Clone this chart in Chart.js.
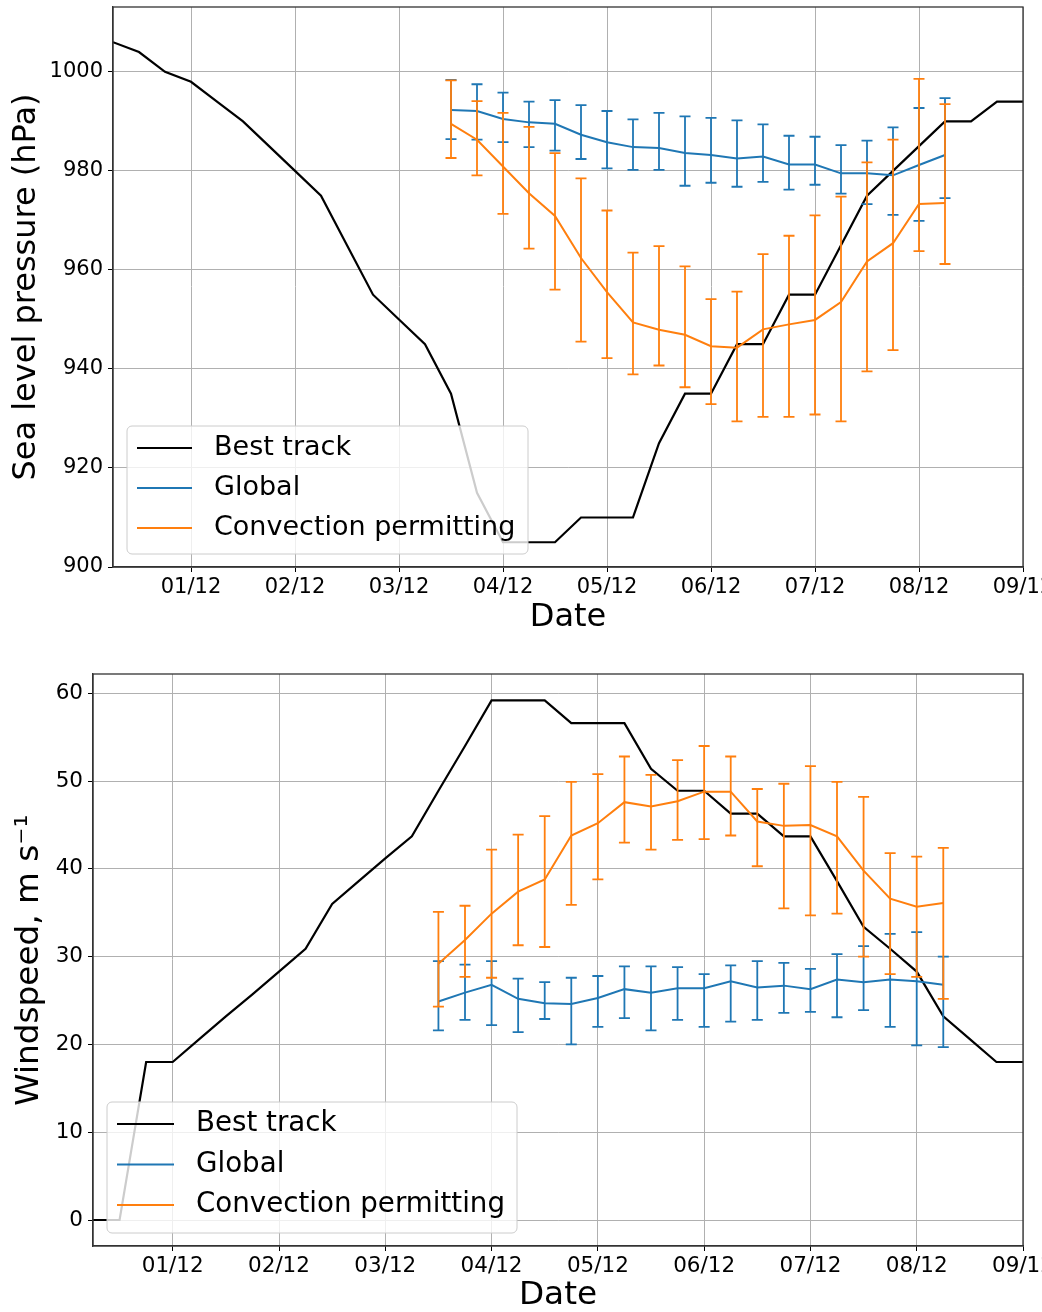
<!DOCTYPE html>
<html>
<head>
<meta charset="utf-8">
<script src="https://cdn.jsdelivr.net/npm/chart.js@4.4.1/dist/chart.umd.min.js"></script>
<style>
  body { margin: 0; background: #fff; }
  #wrap { position: relative; width: 1042px; height: 1312px; }
  canvas { position: absolute; left: 0; }
</style>
</head>
<body>
<div id="wrap">
  <canvas id="pressChart" width="1042" height="640" style="top:0;width:1042px;height:640px"></canvas>
  <canvas id="windChart" width="1042" height="672" style="top:640px;width:1042px;height:672px"></canvas>
</div>
<script>
// x is days into December (1 = 01/12 00Z)
const dayTicks = [1, 2, 3, 4, 5, 6, 7, 8, 9];
const dayLabels = ['01/12', '02/12', '03/12', '04/12', '05/12', '06/12', '07/12', '08/12', '09/12'];
const pressTicks = [900, 920, 940, 960, 980, 1000];
const windTicks = [0, 10, 20, 30, 40, 50, 60];

// best track, 6-hourly
const trackTimes = [0.25, 0.5, 0.75, 1, 1.25, 1.5, 1.75, 2, 2.25, 2.5, 2.75, 3, 3.25, 3.5, 3.75, 4, 4.25, 4.5,
  4.75, 5, 5.25, 5.5, 5.75, 6, 6.25, 6.5, 6.75, 7, 7.25, 7.5, 7.75, 8, 8.25, 8.5, 8.75, 9];
const trackPressure = [1006, 1004, 1000, 998, 994, 990, 985, 980, 975, 965, 955, 950, 945, 935, 915, 905, 905, 905,
  910, 910, 910, 925, 935, 935, 945, 945, 955, 955, 965, 975, 980, 985, 990, 990, 994, 994];
const trackWind = [0, 0, 18.0, 18.0, 20.6, 23.2, 25.7, 28.3, 30.9, 36.0, 38.6, 41.2, 43.7, 48.9, 54.0, 59.2, 59.2, 59.2,
  56.6, 56.6, 56.6, 51.4, 48.9, 48.9, 46.3, 46.3, 43.7, 43.7, 38.6, 33.4, 30.9, 28.3, 23.2, 20.6, 18.0, 18.0];

// model forecasts (mean, upper and lower error bar)
const modelTimes = [3.5, 3.75, 4, 4.25, 4.5, 4.75, 5, 5.25, 5.5, 5.75, 6, 6.25, 6.5, 6.75, 7, 7.25, 7.5, 7.75, 8, 8.25];

const globalPressure = [992.3, 992.1, 990.5, 989.8, 989.5, 987.3, 985.8, 984.8, 984.6, 983.6, 983.2, 982.5, 982.9, 981.3, 981.3, 979.5, 979.5, 979.1, 981.2, 983.2];
const globalPressureHigh = [998.4, 997.5, 995.8, 994.0, 994.3, 993.3, 992.1, 990.4, 991.7, 991.0, 990.7, 990.2, 989.4, 987.1, 986.9, 985.2, 986.1, 988.8, 992.7, 994.7];
const globalPressureLow = [986.4, 986.3, 985.8, 984.8, 984.1, 982.4, 980.5, 980.2, 980.2, 977.0, 977.6, 976.8, 977.8, 976.2, 977.2, 975.4, 973.3, 971.1, 969.9, 974.5];

const cpPressure = [989.5, 986.3, 980.9, 975.5, 970.9, 962.4, 955.5, 949.4, 947.9, 946.9, 944.6, 944.3, 948.0, 949.0, 949.9, 953.5, 961.7, 965.4, 973.3, 973.5];
const cpPressureHigh = [998.3, 994.1, 991.7, 988.9, 983.6, 978.5, 972.0, 963.5, 964.8, 960.7, 954.1, 955.6, 963.2, 966.9, 971.0, 974.8, 981.7, 986.3, 998.6, 993.5];
const cpPressureLow = [982.6, 979.1, 971.3, 964.3, 956.0, 945.5, 942.2, 938.9, 940.7, 936.3, 932.9, 929.4, 930.3, 930.3, 930.8, 929.4, 939.5, 943.8, 963.8, 961.2];

const globalWind = [24.9, 25.9, 26.8, 25.2, 24.7, 24.6, 25.3, 26.3, 25.9, 26.4, 26.4, 27.2, 26.5, 26.7, 26.3, 27.4, 27.1, 27.4, 27.2, 26.8];
const globalWindHigh = [29.5, 29.1, 29.5, 27.5, 27.1, 27.6, 27.8, 28.9, 28.9, 28.8, 28.0, 29.0, 29.5, 29.3, 28.6, 30.3, 31.2, 32.6, 32.8, 30.0];
const globalWindLow = [21.6, 22.8, 22.2, 21.4, 22.9, 20.0, 22.0, 23.0, 21.6, 22.8, 22.0, 22.6, 22.8, 23.6, 23.7, 23.1, 23.9, 22.0, 19.9, 19.7];

const cpWind = [29.2, 31.9, 34.9, 37.4, 38.8, 43.8, 45.2, 47.6, 47.1, 47.7, 48.8, 48.8, 45.4, 44.9, 45.0, 43.7, 39.8, 36.6, 35.7, 36.1];
const cpWindHigh = [35.1, 35.8, 42.2, 43.9, 46.0, 49.9, 50.8, 52.8, 50.7, 52.4, 54.0, 52.8, 49.1, 49.7, 51.7, 49.9, 48.2, 41.8, 41.4, 42.4];
const cpWindLow = [24.3, 27.7, 27.6, 31.3, 31.1, 35.9, 38.8, 43.0, 42.2, 43.3, 43.4, 43.8, 40.3, 35.5, 34.7, 34.9, 30.0, 28.0, 27.7, 25.2];

const BLUE = '#1f77b4';
const ORANGE = '#ff7f0e';

Chart.defaults.font.family = '"DejaVu Sans", sans-serif';
Chart.defaults.color = '#000';

function pts(xs, ys) {
  return xs.map((x, i) => ({ x: x, y: ys[i] }));
}

// vertical error bars with caps, drawn right after each dataset's line
const errorBars = {
  id: 'errorBars',
  afterDatasetDraw(chart, args) {
    const ds = chart.data.datasets[args.index];
    if (!ds.errLow) return;
    const { ctx, scales: { x, y } } = chart;
    ctx.save();
    ctx.strokeStyle = ds.borderColor;
    ctx.lineWidth = 1.8;
    ds.data.forEach((p, i) => {
      const px = x.getPixelForValue(p.x);
      const lo = y.getPixelForValue(ds.errLow[i]);
      const hi = y.getPixelForValue(ds.errHigh[i]);
      ctx.beginPath();
      ctx.moveTo(px, lo); ctx.lineTo(px, hi);
      ctx.moveTo(px - 5.5, lo); ctx.lineTo(px + 5.5, lo);
      ctx.moveTo(px - 5.5, hi); ctx.lineTo(px + 5.5, hi);
      ctx.stroke();
    });
    ctx.restore();
  }
};

// full axes box + matplotlib style legend box
const frameLegend = {
  id: 'frameLegend',
  afterDraw(chart, args, o) {
    const { ctx, chartArea: a } = chart;
    ctx.save();
    ctx.strokeStyle = '#333';
    ctx.lineWidth = 1.3;
    ctx.strokeRect(a.left, a.top, a.right - a.left, a.bottom - a.top);

    ctx.beginPath();
    ctx.roundRect(o.x, o.y, o.w, o.h, 5);
    ctx.fillStyle = 'rgba(255,255,255,0.8)';
    ctx.fill();
    ctx.strokeStyle = '#cccccc';
    ctx.lineWidth = 1;
    ctx.stroke();

    ctx.font = o.size + 'px "DejaVu Sans"';
    ctx.textBaseline = 'middle';
    ctx.textAlign = 'left';
    chart.data.datasets.forEach((ds, i) => {
      const yy = o.y + o.row0 + i * o.gap;
      ctx.strokeStyle = ds.borderColor;
      ctx.lineWidth = ds.borderWidth;
      ctx.beginPath();
      ctx.moveTo(o.x + o.h0, yy);
      ctx.lineTo(o.x + o.h1, yy);
      ctx.stroke();
      ctx.fillStyle = '#000';
      ctx.fillText(ds.label, o.x + o.tx, yy);
    });
    ctx.restore();
  }
};

function makeChart(id, s) {
  return new Chart(document.getElementById(id), {
    type: 'line',
    data: {
      datasets: [
        { label: 'Best track', data: pts(trackTimes, s.track), borderColor: '#000', borderWidth: 2.2, order: 2 },
        { label: 'Global', data: pts(modelTimes, s.glob), errLow: s.globLow, errHigh: s.globHigh,
          borderColor: BLUE, borderWidth: 2, order: 1 },
        { label: 'Convection permitting', data: pts(modelTimes, s.cp), errLow: s.cpLow, errHigh: s.cpHigh,
          borderColor: ORANGE, borderWidth: 2, order: 0 }
      ]
    },
    options: {
      responsive: false,
      animation: false,
      events: [],
      layout: { padding: { left: 0, right: 19, top: s.top, bottom: 0 } },
      elements: { point: { radius: 0 }, line: { tension: 0, fill: false } },
      plugins: {
        legend: { display: false },
        tooltip: { enabled: false },
        frameLegend: s.legend
      },
      scales: {
        x: {
          type: 'linear',
          min: 0.25,
          max: 9,
          afterBuildTicks: sc => { sc.ticks = dayTicks.map(v => ({ value: v })); },
          afterFit: sc => { sc.height = s.xh; sc.paddingLeft = 0; sc.paddingRight = 0; },
          ticks: { callback: (v, i) => dayLabels[i], font: { size: s.tick }, padding: 3, maxRotation: 0, autoSkip: false },
          grid: { color: '#b0b0b0', lineWidth: 1, tickColor: '#000', tickLength: 5 },
          border: { color: '#333', width: 1.3 },
          title: { display: true, text: 'Date', font: { size: s.title, lineHeight: 1 }, padding: { top: 0, bottom: s.xtp } }
        },
        y: {
          type: 'linear',
          min: s.ymin,
          max: s.ymax,
          afterBuildTicks: sc => { sc.ticks = s.yticks.map(v => ({ value: v })); },
          afterFit: sc => { sc.width = s.yw; sc.paddingTop = 0; sc.paddingBottom = 0; },
          ticks: { callback: v => String(v), font: { size: s.tick }, padding: 5 },
          grid: { color: '#b0b0b0', lineWidth: 1, tickColor: '#000', tickLength: 5 },
          border: { color: '#333', width: 1.3 },
          title: { display: true, text: s.ytitle, font: { size: s.title, lineHeight: 1 }, padding: { top: s.ytp, bottom: 0 } }
        }
      }
    },
    plugins: [errorBars, frameLegend]
  });
}

makeChart('pressChart', {
  track: trackPressure,
  glob: globalPressure, globLow: globalPressureLow, globHigh: globalPressureHigh,
  cp: cpPressure, cpLow: cpPressureLow, cpHigh: cpPressureHigh,
  ymin: 900, ymax: 1013.1, yticks: pressTicks,
  ytitle: 'Sea level pressure (hPa)',
  top: 7, xh: 73, yw: 113, xtp: 6, ytp: 11,
  tick: 21, title: 32,
  legend: { x: 127, y: 426, w: 401, h: 128, row0: 22, gap: 40, h0: 10, h1: 65, tx: 87, size: 27 }
});

makeChart('windChart', {
  track: trackWind,
  glob: globalWind, globLow: globalWindLow, globHigh: globalWindHigh,
  cp: cpWind, cpLow: cpWindLow, cpHigh: cpWindHigh,
  ymin: -2.96, ymax: 62.2, yticks: windTicks,
  ytitle: 'Windspeed, m s\u207B\u00B9',
  top: 34, xh: 66, yw: 93, xtp: 0, ytp: 13.5,
  tick: 21.5, title: 32.7,
  legend: { x: 107, y: 462, w: 410, h: 131, row0: 22, gap: 40.5, h0: 10, h1: 67, tx: 89, size: 27.7 }
});
</script>
</body>
</html>
